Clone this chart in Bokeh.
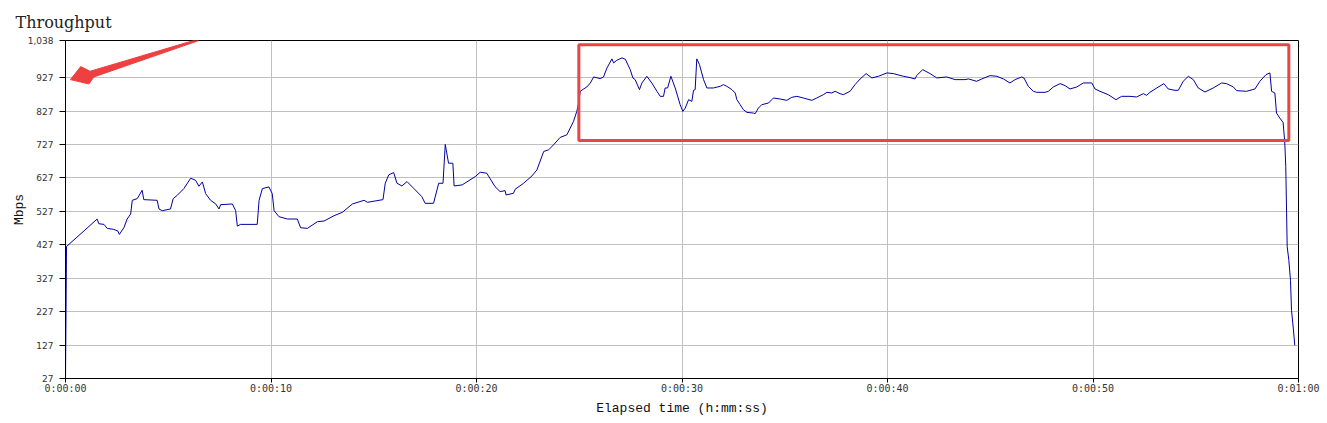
from bokeh.plotting import figure
from bokeh.models import Range1d, FixedTicker, NumeralTickFormatter, BoxAnnotation
from bokeh.embed import file_html
from bokeh.resources import INLINE

# ---- data ----
seconds = [0, 0.05, 0.8, 1.54, 1.62, 1.87, 2.03, 2.35, 2.55, 2.62, 2.84, 3.0, 3.17, 3.25, 3.49,
           3.73, 3.81, 4.46, 4.55, 4.71, 5.11, 5.24, 5.44, 5.76, 6.09, 6.33, 6.49, 6.66, 6.82,
           7.06, 7.31, 7.47, 7.55, 8.12, 8.28, 8.36, 8.52, 9.33, 9.42, 9.58, 9.9, 10.06, 10.15,
           10.39, 10.8, 11.28, 11.44, 11.77, 12.26, 12.58, 13.07, 13.47, 13.96, 14.53, 14.69,
           15.45, 15.56, 15.73, 15.97, 16.13, 16.37, 16.62, 16.94, 17.34, 17.5, 17.91, 18.16,
           18.37, 18.48, 18.64, 18.85, 18.91, 19.3, 19.94, 20.18, 20.5, 20.9, 21.15, 21.39,
           21.44, 21.8, 21.88, 22.29, 22.7, 22.94, 23.27, 23.51, 23.75, 24.07, 24.4, 24.72,
           24.88, 24.95, 25.05, 25.21, 25.37, 25.54, 25.7, 26.02, 26.18, 26.35, 26.59, 26.67,
           26.83, 27.08, 27.24, 27.48, 27.61, 27.72, 27.93, 28.05, 28.29, 28.53, 28.78, 28.94,
           29.1, 29.18, 29.3, 29.46, 29.67, 29.91, 30.04, 30.16, 30.32, 30.48, 30.56, 30.64,
           30.72, 30.85, 31.05, 31.21, 31.53, 31.86, 32.02, 32.18, 32.43, 32.59, 32.67, 32.83,
           32.99, 33.16, 33.48, 33.56, 33.72, 33.88, 34.21, 34.37, 34.45, 34.78, 35.1, 35.34,
           35.59, 35.91, 36.32, 36.56, 36.88, 37.05, 37.29, 37.45, 37.69, 37.85, 38.18, 38.42,
           38.67, 38.96, 39.24, 39.56, 39.97, 40.29, 40.77, 41.1, 41.34, 41.42, 41.71, 42.07,
           42.4, 42.88, 43.29, 43.77, 43.94, 44.34, 44.59, 44.99, 45.32, 45.64, 45.96, 46.21,
           46.53, 46.64, 46.85, 47.1, 47.26, 47.67, 47.83, 48.07, 48.4, 48.64, 48.88, 49.21,
           49.53, 49.94, 50.1, 50.34, 50.74, 51.12, 51.39, 51.8, 52.12, 52.45, 52.61, 52.77,
           53.1, 53.45, 53.66, 53.99, 54.15, 54.39, 54.64, 54.88, 55.12, 55.45, 55.85, 56.26,
           56.5, 56.83, 56.99, 57.47, 57.88, 58.12, 58.42, 58.61, 58.69, 58.85, 58.93, 59.09,
           59.25, 59.33, 59.38, 59.45, 59.53, 59.61, 59.66, 59.74, 59.82]
mbps = [27, 422, 463, 504, 490, 488, 476, 473, 468, 458, 478, 504, 519, 560, 565,
        590, 562, 560, 534, 529, 534, 565, 575, 595, 626, 620, 602, 615, 580,
        560, 549, 534, 547, 549, 529, 483, 488, 488, 560, 595, 600, 580, 529,
        511, 504, 504, 478, 476, 496, 498, 514, 524, 549, 560, 554,
        562, 611, 636, 643, 611, 603, 616, 596, 571, 551, 551, 611,
        611, 727, 671, 671, 603, 606, 631, 644, 641, 601, 586, 589,
        576, 581, 593, 611, 633, 651, 706, 711, 726, 748, 756, 796,
        826, 845, 886, 893, 899, 911, 929, 924, 929, 956, 983, 971,
        979, 986, 982, 951, 926, 921, 891, 911, 931, 911, 886, 871,
        871, 896, 896, 931, 896, 846, 826, 836, 861, 856, 889, 891,
        983, 966, 921, 896, 896, 901, 906, 901, 891, 881, 861, 846,
        831, 823, 821, 819, 836, 846, 851, 861, 866, 863, 859, 868,
        871, 866, 859, 866, 876, 883, 881, 886, 879, 876, 886, 906,
        923, 939, 926, 931, 941, 939, 931, 927, 923, 933, 951, 939,
        926, 929, 921, 921, 923, 916, 923, 933, 931, 923, 911, 921,
        929, 926, 901, 886, 883, 883, 886, 899, 909, 903, 893, 899,
        911, 911, 893, 886, 876, 861, 871, 871, 869, 879, 874, 883,
        896, 909, 893, 889, 889, 916, 931, 921, 896, 884, 896, 911,
        909, 899, 888, 886, 893, 916, 936, 941, 886, 881, 821, 806,
        793, 736, 661, 421, 381, 321, 231, 181, 126]

x_ticks = [0, 10, 20, 30, 40, 50, 60]
x_tick_labels = ["0:00:00", "0:00:10", "0:00:20", "0:00:30", "0:00:40", "0:00:50", "0:01:00"]
y_ticks = [27, 127, 227, 327, 427, 527, 627, 727, 827, 927, 1038]

# annotations drawn over the chart (highlight box and arrow), in data units
box_left, box_right, box_bottom, box_top = 24.98, 59.53, 739, 1025
arrow_x = [0.24, 0.74, 1.2, 6.45, 6.45, 1.38, 1.14]
arrow_y = [921, 960, 946, 1042, 1037, 929, 908]

p = figure(width=1327, height=423, output_backend="svg", toolbar_location=None,
           x_range=Range1d(0, 60), y_range=Range1d(27, 1038),
           min_border_left=65, min_border_right=29, min_border_top=40, min_border_bottom=45,
           title="Throughput")

p.title.text_font = "DejaVu Serif"
p.title.text_font_size = "16px"
p.title.text_font_style = "normal"
p.title.text_color = "#222222"
p.title.align = "left"
p.title.offset = -50
p.title.standoff = 17

p.outline_line_color = "black"
p.outline_line_width = 1
p.background_fill_color = "white"
p.border_fill_color = "white"

# axes
p.xaxis.ticker = FixedTicker(ticks=x_ticks)
p.xaxis.major_label_overrides = {t: s for t, s in zip(x_ticks, x_tick_labels)}
p.yaxis.ticker = FixedTicker(ticks=y_ticks)
p.yaxis.formatter = NumeralTickFormatter(format="0,0")

for ax in (p.xaxis[0], p.yaxis[0]):
    ax.axis_line_color = "black"
    ax.major_tick_line_color = "black"
    ax.major_tick_in = 0
    ax.minor_tick_line_color = None
    ax.major_label_text_color = "#333333"
    ax.axis_label_text_font = "Liberation Mono"
    ax.axis_label_text_font_size = "13px"
    ax.axis_label_text_font_style = "normal"
    ax.axis_label_text_color = "#111111"

p.xaxis.major_tick_out = 4
p.xaxis.major_label_standoff = 0
p.xaxis.major_label_text_font = "DejaVu Sans Mono"
p.xaxis.major_label_text_font_size = "10px"
p.xaxis.axis_label = "Elapsed time (h:mm:ss)"
p.xaxis.axis_label_standoff = 4

p.yaxis.major_tick_out = 6
p.yaxis.major_label_standoff = 6
p.yaxis.major_label_text_font = "DejaVu Sans"
p.yaxis.major_label_text_font_size = "9px"
p.yaxis.axis_label = "Mbps"
p.yaxis.axis_label_standoff = -2

p.xgrid.grid_line_color = "#c0c0c0"
p.ygrid.grid_line_color = "#c0c0c0"
p.xgrid.ticker = FixedTicker(ticks=x_ticks)
p.ygrid.ticker = FixedTicker(ticks=y_ticks)

p.line(seconds, mbps, line_color="#0000a0", line_width=1)

p.add_layout(BoxAnnotation(left=box_left, right=box_right, bottom=box_bottom, top=box_top,
                           fill_alpha=0, line_color="#e84545", line_alpha=1.0, line_width=3))
p.patch(arrow_x, arrow_y, fill_color="#ee4040", line_color="#ee4040", line_width=1)

open("out.html", "w").write(file_html(p, INLINE))
